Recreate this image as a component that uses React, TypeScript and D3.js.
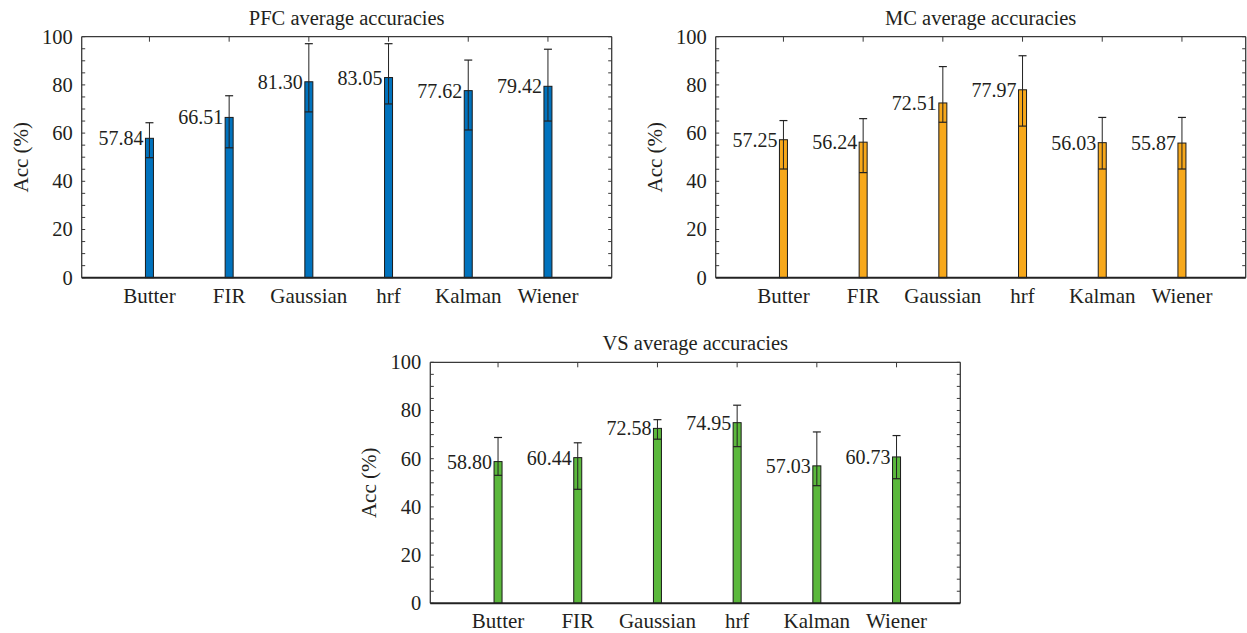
import React from "react";
import * as d3 from "d3";

const categories = ["Butter", "FIR", "Gaussian", "hrf", "Kalman", "Wiener"];
const yTicks = [0, 20, 40, 60, 80, 100];

const pfcValues = [57.84, 66.51, 81.3, 83.05, 77.62, 79.42];
const pfcLow = [49.8, 53.9, 68.8, 72.1, 61.3, 65.0];
const pfcHigh = [64.3, 75.5, 97.1, 97.1, 90.3, 94.8];

const mcValues = [57.25, 56.24, 72.51, 77.97, 56.03, 55.87];
const mcLow = [45.1, 43.6, 64.5, 62.9, 45.1, 45.1];
const mcHigh = [65.2, 66.0, 87.6, 92.1, 66.5, 66.5];

const vsValues = [58.8, 60.44, 72.58, 74.95, 57.03, 60.73];
const vsLow = [53.1, 47.3, 68.1, 65.0, 48.8, 51.7];
const vsHigh = [68.8, 66.6, 76.2, 82.2, 71.1, 69.6];

const W = 530;
const H = 241;
const FONT = "'Liberation Serif', 'Times New Roman', serif";

function Panel({ x0, y0, title, values, low, high, color }: any) {
  const x = d3.scaleLinear().domain([0.15, 6.8]).range([0, W]);
  const y = d3.scaleLinear().domain([0, 100]).range([H, 0]);
  const bw = 8;
  const minor = d3.range(0, 101, 5);
  const frame = "#3a3a3a";
  return (
    <g transform={`translate(${x0},${y0})`}>
      <text x={W / 2} y={-12} textAnchor="middle" fontFamily={FONT} fontSize={20.5} fill="#231f20">
        {title}
      </text>
      <line x1={0} y1={0} x2={W} y2={0} stroke={frame} strokeWidth={1.3} />
      <line x1={W} y1={0} x2={W} y2={H} stroke={frame} strokeWidth={1.3} />
      <line x1={0} y1={0} x2={0} y2={H} stroke={frame} strokeWidth={1.3} />
      {minor.map((t) => (
        <g key={"m" + t}>
          <line x1={0} x2={3.5} y1={y(t)} y2={y(t)} stroke={frame} strokeWidth={1} />
          <line x1={W} x2={W - 3.5} y1={y(t)} y2={y(t)} stroke={frame} strokeWidth={1} />
        </g>
      ))}
      {yTicks.map((t) => (
        <text key={"t" + t} x={-9} y={y(t) + 7} textAnchor="end" fontFamily={FONT} fontSize={20.5} fill="#231f20">
          {t}
        </text>
      ))}
      <text
        transform={`translate(-54,${H / 2}) rotate(-90)`}
        textAnchor="middle"
        fontFamily={FONT}
        fontSize={21}
        fill="#231f20"
      >
        Acc (%)
      </text>
      {categories.map((c, i) => (
        <line key={"xt" + c} x1={x(i + 1)} x2={x(i + 1)} y1={0} y2={5} stroke={frame} strokeWidth={1} />
      ))}
      {categories.map((c, i) => (
        <text key={"xl" + c} x={x(i + 1)} y={H + 25} textAnchor="middle" fontFamily={FONT} fontSize={21} fill="#231f20">
          {c}
        </text>
      ))}
      {values.map((v: number, i: number) => {
        const cx = x(i + 1);
        return (
          <g key={"b" + i}>
            <rect x={cx - bw / 2} y={y(v)} width={bw} height={H - y(v)} fill={color} stroke="#1a1a1a" strokeWidth={1} />
            <line x1={cx} x2={cx} y1={y(high[i])} y2={y(low[i])} stroke="#222" strokeWidth={1} />
            <line x1={cx - bw / 2} x2={cx + bw / 2} y1={y(high[i])} y2={y(high[i])} stroke="#222" strokeWidth={1.2} />
            <line x1={cx - bw / 2} x2={cx + bw / 2} y1={y(low[i])} y2={y(low[i])} stroke="#222" strokeWidth={1.2} />
            <text x={cx - bw / 2 - 2} y={y(v) + 7} textAnchor="end" fontFamily={FONT} fontSize={20} fill="#231f20">
              {v.toFixed(2)}
            </text>
          </g>
        );
      })}
      <line x1={0} y1={H} x2={W} y2={H} stroke="#222" strokeWidth={2} />
    </g>
  );
}

export default function App() {
  return (
    <svg
      width={1247}
      height={633}
      style={{ position: "absolute", left: 0, top: 0, background: "#fff" }}
    >
      <rect width={1247} height={633} fill="#fff" />
      <Panel x0={81.7} y0={36.7} title="PFC average accuracies" values={pfcValues} low={pfcLow} high={pfcHigh} color="#0072BD" />
      <Panel x0={715.7} y0={36.7} title="MC average accuracies" values={mcValues} low={mcLow} high={mcHigh} color="#F7A81B" />
      <Panel x0={430.3} y0={362.3} title="VS average accuracies" values={vsValues} low={vsLow} high={vsHigh} color="#5BB83C" />
    </svg>
  );
}
